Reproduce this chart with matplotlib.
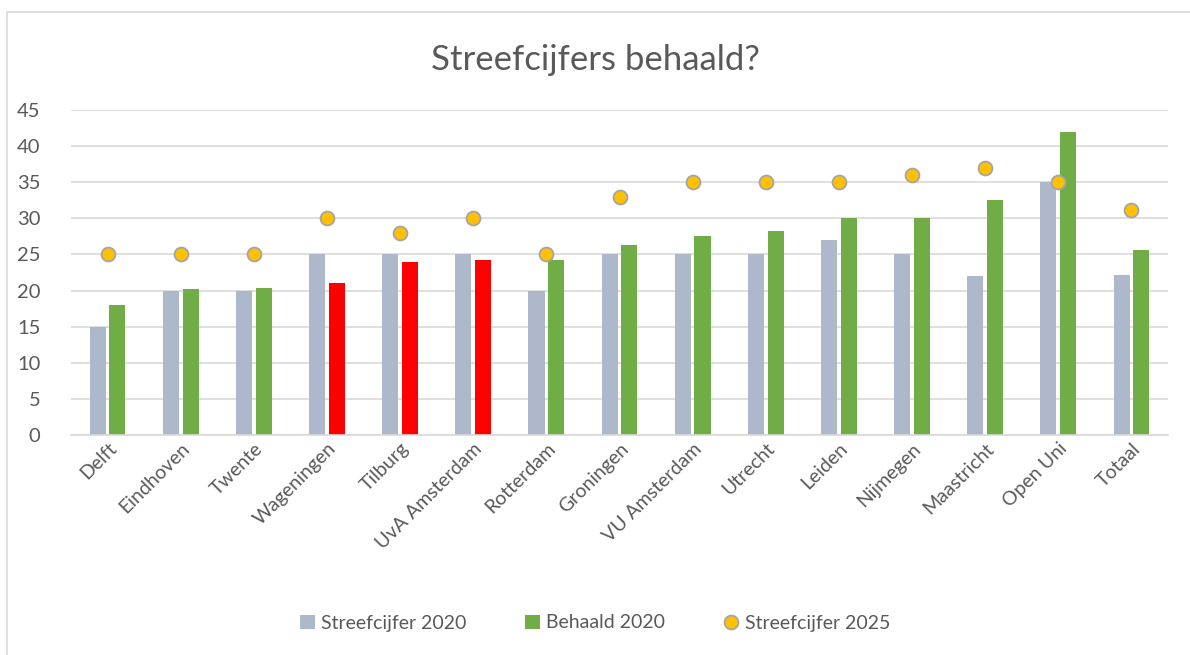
import matplotlib
matplotlib.use("Agg")
import matplotlib.pyplot as plt
import numpy as np
from matplotlib.patches import Rectangle

plt.rcParams['font.family'] = ['Lato', 'DejaVu Sans']

# Data
universiteiten = ["Delft", "Eindhoven", "Twente", "Wageningen", "Tilburg",
                  "UvA Amsterdam", "Rotterdam", "Groningen", "VU Amsterdam",
                  "Utrecht", "Leiden", "Nijmegen", "Maastricht", "Open Uni", "Totaal"]
streef_2020 = [15, 20, 20, 25, 25, 25, 20, 25, 25, 25, 27, 25, 22, 35, 22.1]
behaald_2020 = [18, 20.2, 20.3, 21, 24, 24.2, 24.2, 26.3, 27.5, 28.2, 30.1, 30.1, 32.5, 42, 25.6]
streef_2025 = [25, 25, 25, 30, 28, 30, 25, 33, 35, 35, 35, 36, 37, 35, 31.2]
niet_gehaald = ["Wageningen", "Tilburg", "UvA Amsterdam"]

grijs = "#ADB9CA"
groen = "#70AD47"
rood = "#FF0000"
goud = "#FFC000"
tekst = "#595959"

fig = plt.figure(figsize=(11.9, 6.55), dpi=100)
ax = fig.add_axes([71/1190, 1 - 435/655, (1168-71)/1190, (435-110)/655])

# rand om de grafiek
fig.patches.append(Rectangle((7/1190, -0.1), 1.2, 1.1 - 12/655, transform=fig.transFigure,
                             fill=False, edgecolor="#D9D9D9", linewidth=1.2))

x = np.arange(len(universiteiten))
w = 0.22
kleuren = [rood if u in niet_gehaald else groen for u in universiteiten]

b1 = ax.bar(x - 0.135, streef_2020, w, color=grijs, label="Streefcijfer 2020", zorder=2)
b2 = ax.bar(x + 0.135, behaald_2020, w, color=kleuren, label="Behaald 2020", zorder=2)
p1, = ax.plot(x, streef_2025, linestyle="none", marker="o", markersize=10,
              markerfacecolor=goud, markeredgecolor="#A5A5A5", markeredgewidth=1.3,
              label="Streefcijfer 2025", zorder=3)

ax.set_xlim(-0.5, len(universiteiten) - 0.5)
ax.set_ylim(0, 45)
ax.set_yticks(range(0, 50, 5))
ax.yaxis.grid(True, color="#D9D9D9", linewidth=1.2, zorder=0)
ax.set_axisbelow(True)
for s in ["top", "right", "left"]:
    ax.spines[s].set_visible(False)
ax.spines["bottom"].set_color("#D9D9D9")
ax.spines["bottom"].set_linewidth(1.2)
ax.tick_params(axis="both", length=0, labelcolor=tekst)
ax.tick_params(axis="x", labelsize=14)
ax.tick_params(axis="y", labelsize=14.5, pad=22)
ax.set_xticks(x)
ax.set_xticklabels(universiteiten, rotation=45, ha="right", rotation_mode="anchor")

fig.text(0.5, 1 - 60/655, "Streefcijfers behaald?", ha="center", va="center",
         fontsize=25, color=tekst)

leg = ax.legend([b1, b2, p1], ["Streefcijfer 2020", "Behaald 2020", "Streefcijfer 2025"],
                loc="center", bbox_to_anchor=(0.5, 1 - 623/655), bbox_transform=fig.transFigure,
                ncol=3, frameon=False, fontsize=14, handlelength=0.8, handletextpad=0.3,
                columnspacing=3.0)
for t in leg.get_texts():
    t.set_color(tekst)

fig.savefig("out.png", dpi=100)
